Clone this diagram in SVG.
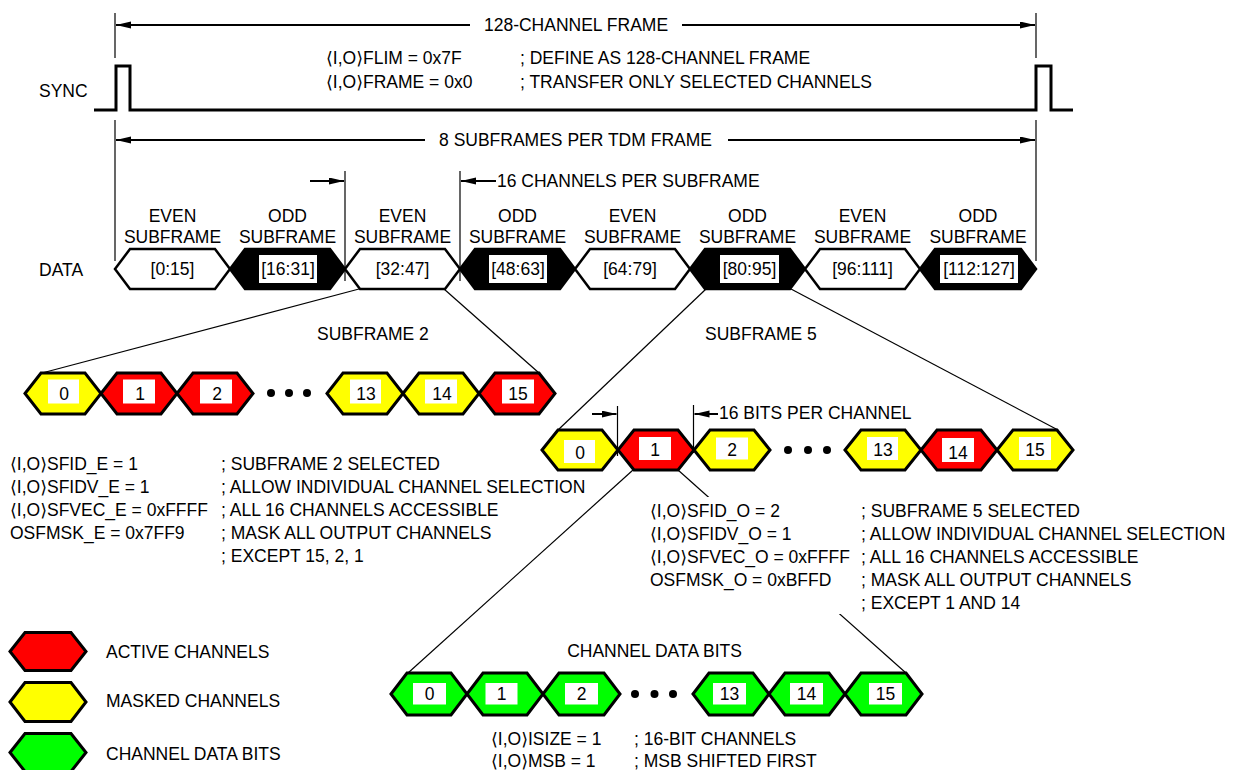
<svg xmlns="http://www.w3.org/2000/svg" width="1242" height="770" viewBox="0 0 1242 770">
<defs>
<marker id="ah" markerUnits="userSpaceOnUse" markerWidth="16" markerHeight="8" refX="15" refY="3.5" orient="auto-start-reverse"><path d="M0,0 L15,3.5 L0,7 z" fill="#000"/></marker>
<style>
text{font-family:"Liberation Sans",Arial,"DejaVu Sans",sans-serif;font-size:17.5px;fill:#000}
.m{text-anchor:middle}
.dim{stroke:#000;stroke-width:2;fill:none}
.thin{stroke:#000;stroke-width:1.2;fill:none}
.sig{stroke:#000;stroke-width:3;fill:none}
.ev{fill:#fff;stroke:#000;stroke-width:2.5}
.od{fill:#000;stroke:#000;stroke-width:2.5}
.box{fill:#fff}
.r{fill:#f00;stroke:#000;stroke-width:3;stroke-linejoin:miter}
.y{fill:#ff0;stroke:#000;stroke-width:3}
.g{fill:#0f0;stroke:#000;stroke-width:3}
</style>
</defs>
<rect width="1242" height="770" fill="#fff"/>

<g id="frame-dimensions">
<line class="thin" x1="115" y1="13" x2="115" y2="58"/>
<line class="thin" x1="1036" y1="13" x2="1036" y2="58"/>
<line class="dim" x1="470" y1="25" x2="116" y2="25" marker-end="url(#ah)"/>
<line class="dim" x1="682" y1="25" x2="1035" y2="25" marker-end="url(#ah)"/>
<text class="m" x="576" y="31">128-CHANNEL FRAME</text>
<text x="326" y="64">⟨I,O⟩FLIM = 0x7F</text>
<text x="520" y="64">; DEFINE AS 128-CHANNEL FRAME</text>
<text x="326" y="88">⟨I,O⟩FRAME = 0x0</text>
<text x="520" y="88">; TRANSFER ONLY SELECTED CHANNELS</text>
<line class="thin" x1="115" y1="120" x2="115" y2="261"/>
<line class="thin" x1="1036" y1="120" x2="1036" y2="261"/>
<line class="dim" x1="425" y1="140" x2="116" y2="140" marker-end="url(#ah)"/>
<line class="dim" x1="728" y1="140" x2="1035" y2="140" marker-end="url(#ah)"/>
<text class="m" x="575.5" y="146">8 SUBFRAMES PER TDM FRAME</text>
<line class="thin" x1="345" y1="171" x2="345" y2="281"/>
<line class="thin" x1="460" y1="171" x2="460" y2="281"/>
<line class="dim" x1="310" y1="181" x2="344" y2="181" marker-end="url(#ah)"/>
<line class="dim" x1="496" y1="181" x2="461" y2="181" marker-end="url(#ah)"/>
<text x="497" y="187">16 CHANNELS PER SUBFRAME</text>
</g>

<g id="sync">
<text x="39" y="97">SYNC</text>
<path class="sig" d="M94,110 H116 V66 H130 V110 H1036 V66 H1051 V110 H1073"/>
</g>

<g id="data-row">
<text x="39" y="276">DATA</text>
<g id="sf0"><polygon class="ev" points="115,269 130,249 215,249 230,269 215,289 130,289"/><text class="m" x="172.5" y="222">EVEN</text><text class="m" x="172.5" y="243">SUBFRAME</text><text class="m" x="172.5" y="275">[0:15]</text></g>
<g id="sf1"><polygon class="od" points="230,269 245,249 330,249 345,269 330,289 245,289"/><text class="m" x="287.5" y="222">ODD</text><text class="m" x="287.5" y="243">SUBFRAME</text><rect class="box" x="259" y="255" width="58" height="28"/><text class="m" x="288" y="275">[16:31]</text></g>
<g id="sf2"><polygon class="ev" points="345,269 360,249 445,249 460,269 445,289 360,289"/><text class="m" x="402.5" y="222">EVEN</text><text class="m" x="402.5" y="243">SUBFRAME</text><text class="m" x="402.5" y="275">[32:47]</text></g>
<g id="sf3"><polygon class="od" points="460,269 475,249 560,249 575,269 560,289 475,289"/><text class="m" x="517.5" y="222">ODD</text><text class="m" x="517.5" y="243">SUBFRAME</text><rect class="box" x="489" y="255" width="58" height="28"/><text class="m" x="518" y="275">[48:63]</text></g>
<g id="sf4"><polygon class="ev" points="575,269 590,249 675,249 690,269 675,289 590,289"/><text class="m" x="632.5" y="222">EVEN</text><text class="m" x="632.5" y="243">SUBFRAME</text><text class="m" x="630" y="275">[64:79]</text></g>
<g id="sf5"><polygon class="od" points="690,269 705,249 790,249 805,269 790,289 705,289"/><text class="m" x="747.5" y="222">ODD</text><text class="m" x="747.5" y="243">SUBFRAME</text><rect class="box" x="720" y="255" width="59" height="28"/><text class="m" x="749.5" y="275">[80:95]</text></g>
<g id="sf6"><polygon class="ev" points="805,269 820,249 905,249 920,269 905,289 820,289"/><text class="m" x="862.5" y="222">EVEN</text><text class="m" x="862.5" y="243">SUBFRAME</text><text class="m" x="862.5" y="275">[96:111]</text></g>
<g id="sf7"><polygon class="od" points="920,269 935,249 1021,249 1036,269 1021,289 935,289"/><text class="m" x="978" y="222">ODD</text><text class="m" x="978" y="243">SUBFRAME</text><rect class="box" x="940" y="255" width="78" height="28"/><text class="m" x="979" y="275">[112:127]</text></g>
</g>

<g id="connectors">
<line class="thin" x1="359" y1="289" x2="42" y2="373"/>
<line class="thin" x1="444" y1="289" x2="539" y2="373"/>
<line class="thin" x1="706" y1="289" x2="558" y2="430"/>
<line class="thin" x1="791" y1="289" x2="1058" y2="430"/>
<line class="thin" x1="633" y1="470" x2="408" y2="673"/>
<line class="thin" x1="678" y1="470" x2="906" y2="673"/>
</g>

<g id="subframe2">
<text x="317" y="340">SUBFRAME 2</text>
<g id="s2c0"><polygon class="y" points="25,393.5 41,373 85,373 101,393.5 85,414 41,414"/><rect class="box" x="48" y="379.5" width="31" height="24"/><text class="m" x="64" y="399.5">0</text></g>
<g id="s2c1"><polygon class="r" points="101,393.5 117,373 161,373 177,393.5 161,414 117,414"/><rect class="box" x="123" y="379.5" width="32" height="24"/><text class="m" x="140" y="399.5">1</text></g>
<g id="s2c2"><polygon class="r" points="177,393.5 193,373 237,373 253,393.5 237,414 193,414"/><rect class="box" x="200" y="379.5" width="32" height="24"/><text class="m" x="217" y="399.5">2</text></g>
<circle cx="271" cy="393" r="4"/><circle cx="289" cy="393" r="4"/><circle cx="307" cy="393" r="4"/>
<g id="s2c13"><polygon class="y" points="327,393.5 343,373 387,373 403,393.5 387,414 343,414"/><rect class="box" x="350" y="379.5" width="31" height="24"/><text class="m" x="366" y="399.5">13</text></g>
<g id="s2c14"><polygon class="y" points="403,393.5 419,373 463,373 479,393.5 463,414 419,414"/><rect class="box" x="425" y="379.5" width="32" height="24"/><text class="m" x="442" y="399.5">14</text></g>
<g id="s2c15"><polygon class="r" points="479,393.5 495,373 539,373 555,393.5 539,414 495,414"/><rect class="box" x="502" y="379.5" width="32" height="24"/><text class="m" x="518" y="399.5">15</text></g>
</g>

<g id="subframe2-config">
<text x="10" y="470">⟨I,O⟩SFID_E = 1</text>
<text x="10" y="493">⟨I,O⟩SFIDV_E = 1</text>
<text x="10" y="516">⟨I,O⟩SFVEC_E = 0xFFFF</text>
<text x="10" y="539">OSFMSK_E = 0x7FF9</text>
<text x="221" y="470">; SUBFRAME 2 SELECTED</text>
<text x="221" y="493">; ALLOW INDIVIDUAL CHANNEL SELECTION</text>
<text x="221" y="516">; ALL 16 CHANNELS ACCESSIBLE</text>
<text x="221" y="539">; MASK ALL OUTPUT CHANNELS</text>
<text x="221" y="562">; EXCEPT 15, 2, 1</text>
</g>

<g id="subframe5">
<text x="705" y="340">SUBFRAME 5</text>
<line class="thin" x1="617.5" y1="406" x2="617.5" y2="456"/>
<line class="thin" x1="693.5" y1="405" x2="693.5" y2="453"/>
<line class="dim" x1="592" y1="414" x2="616.5" y2="414" marker-end="url(#ah)"/>
<line class="dim" x1="718" y1="414" x2="694.5" y2="414" marker-end="url(#ah)"/>
<text x="719" y="419">16 BITS PER CHANNEL</text>
<g id="s5c0"><polygon class="y" points="542,450 558,430 602,430 618,450 602,470 558,470"/><rect class="box" x="564" y="440" width="31" height="23"/><text class="m" x="580" y="458.5">0</text></g>
<g id="s5c1"><polygon class="r" points="618,450 634,430 678,430 694,450 678,470 634,470"/><rect class="box" x="639" y="437" width="32" height="23"/><text class="m" x="655" y="456">1</text></g>
<g id="s5c2"><polygon class="y" points="694,450 710,430 754,430 770,450 754,470 710,470"/><rect class="box" x="716" y="437.5" width="32" height="22"/><text class="m" x="732" y="456">2</text></g>
<circle cx="788" cy="450" r="4"/><circle cx="808" cy="450" r="4"/><circle cx="827" cy="450" r="4"/>
<g id="s5c13"><polygon class="y" points="845,450 861,430 905,430 921,450 905,470 861,470"/><rect class="box" x="867" y="437" width="31" height="23"/><text class="m" x="883" y="456">13</text></g>
<g id="s5c14"><polygon class="r" points="921,450 937,430 981,430 997,450 981,470 937,470"/><rect class="box" x="942" y="438" width="32" height="24"/><text class="m" x="958" y="458.5">14</text></g>
<g id="s5c15"><polygon class="y" points="997,450 1013,430 1057,430 1073,450 1057,470 1013,470"/><rect class="box" x="1019" y="437" width="32" height="23"/><text class="m" x="1035" y="456">15</text></g>
</g>

<g id="subframe5-config">
<rect x="645" y="497" width="595" height="117" fill="#fff"/>
<text x="650" y="517">⟨I,O⟩SFID_O = 2</text>
<text x="650" y="540">⟨I,O⟩SFIDV_O = 1</text>
<text x="650" y="563">⟨I,O⟩SFVEC_O = 0xFFFF</text>
<text x="650" y="586">OSFMSK_O = 0xBFFD</text>
<text x="861" y="517">; SUBFRAME 5 SELECTED</text>
<text x="861" y="540">; ALLOW INDIVIDUAL CHANNEL SELECTION</text>
<text x="861" y="563">; ALL 16 CHANNELS ACCESSIBLE</text>
<text x="861" y="586">; MASK ALL OUTPUT CHANNELS</text>
<text x="861" y="609">; EXCEPT 1 AND 14</text>
</g>

<g id="channel-bits">
<text class="m" x="654.5" y="657">CHANNEL DATA BITS</text>
<g id="b0"><polygon class="g" points="391,694 407,673 451,673 467,694 451,715 407,715"/><rect class="box" x="413" y="683" width="33" height="21.5"/><text class="m" x="429.5" y="700">0</text></g>
<g id="b1"><polygon class="g" points="467,694 483,673 527,673 543,694 527,715 483,715"/><rect class="box" x="485.5" y="683" width="32" height="21.5"/><text class="m" x="501.5" y="700">1</text></g>
<g id="b2"><polygon class="g" points="543,694 559,673 604,673 620,694 604,715 559,715"/><rect class="box" x="565" y="683" width="33" height="21.5"/><text class="m" x="581.5" y="700">2</text></g>
<circle cx="635" cy="694" r="4"/><circle cx="654.5" cy="694" r="4"/><circle cx="673" cy="694" r="4"/>
<g id="b13"><polygon class="g" points="693,694 709,673 753,673 769,694 753,715 709,715"/><rect class="box" x="713" y="683" width="33" height="21.5"/><text class="m" x="729.5" y="700">13</text></g>
<g id="b14"><polygon class="g" points="769,694 785,673 829,673 845,694 829,715 785,715"/><rect class="box" x="790" y="683" width="33" height="21.5"/><text class="m" x="806.5" y="700">14</text></g>
<g id="b15"><polygon class="g" points="845,694 861,673 906,673 922,694 906,715 861,715"/><rect class="box" x="869" y="683" width="33" height="21.5"/><text class="m" x="885.5" y="700">15</text></g>
<text x="491" y="745">⟨I,O⟩ISIZE = 1</text>
<text x="634" y="745">; 16-BIT CHANNELS</text>
<text x="491" y="767">⟨I,O⟩MSB = 1</text>
<text x="634" y="767">; MSB SHIFTED FIRST</text>
</g>

<g id="legend">
<g id="leg-active"><polygon class="r" points="10,651.5 25,632.5 71,632.5 86,651.5 71,670.5 25,670.5"/><text x="106" y="658">ACTIVE CHANNELS</text></g>
<g id="leg-masked"><polygon class="y" points="10,702 25,682.5 71,682.5 86,702 71,721.5 25,721.5"/><text x="106" y="707">MASKED CHANNELS</text></g>
<g id="leg-bits"><polygon class="g" points="10,752.5 25,733.5 71,733.5 86,752.5 71,771.5 25,771.5"/><text x="106" y="760">CHANNEL DATA BITS</text></g>
</g>
</svg>
